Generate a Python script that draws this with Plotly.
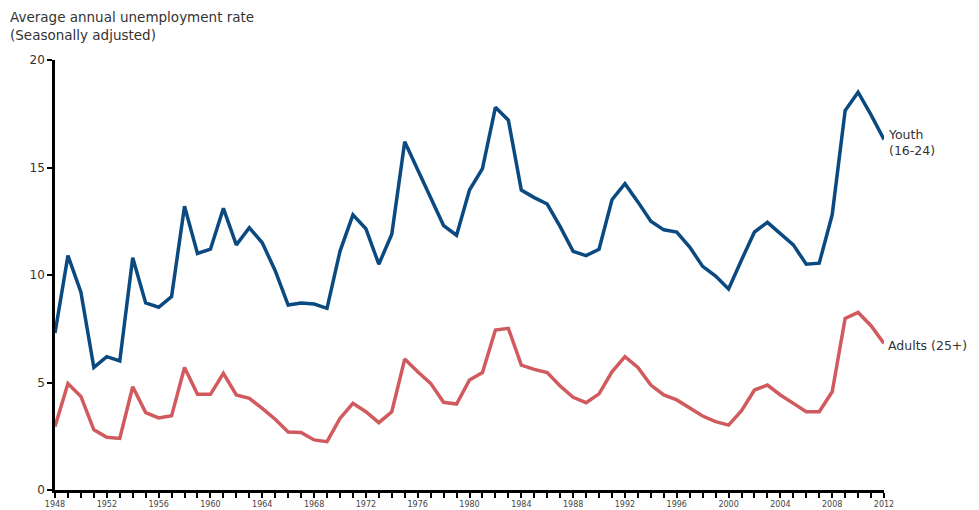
import plotly.graph_objects as go

years = list(range(1948, 2013))
youth = [7.3, 10.9, 9.2, 5.7, 6.2, 6.0, 10.8, 8.7, 8.5, 9.0,
         13.2, 11.0, 11.2, 13.1, 11.4, 12.2, 11.5, 10.2, 8.6, 8.7,
         8.65, 8.45, 11.1, 12.8, 12.15, 10.5, 11.9, 16.2, 14.9, 13.6,
         12.3, 11.85, 13.95, 14.95, 17.8, 17.2, 13.95, 13.6, 13.3, 12.25,
         11.1, 10.9, 11.2, 13.5, 14.25, 13.4, 12.5, 12.1, 12.0, 11.3,
         10.4, 9.95, 9.35, 10.7, 12.0, 12.45, 11.9, 11.4, 10.5, 10.55,
         12.8, 17.65, 18.5, 17.45, 16.3]
adults = [2.95, 4.95, 4.35, 2.8, 2.45, 2.4, 4.8, 3.6, 3.35, 3.45,
          5.7, 4.45, 4.45, 5.43, 4.42, 4.26, 3.8, 3.29, 2.7, 2.68,
          2.33, 2.25, 3.33, 4.03, 3.64, 3.13, 3.64, 6.09, 5.5, 4.96,
          4.08, 4.0, 5.12, 5.46, 7.44, 7.52, 5.81, 5.61, 5.46, 4.84,
          4.31, 4.06, 4.47, 5.5, 6.2, 5.7, 4.88, 4.42, 4.19, 3.8,
          3.44, 3.18, 3.02, 3.69, 4.65, 4.88, 4.42, 4.03, 3.64, 3.64,
          4.57, 7.98, 8.26, 7.64, 6.82]
x_tick_labels = [str(y) if (y - 1948) % 4 == 0 else "" for y in years]
y_ticks = [0, 5, 10, 15, 20]

BLUE = "#0b4a80"
RED = "#d05a5e"
FONT = "DejaVu Sans"

fig = go.Figure()
fig.add_trace(go.Scatter(x=years, y=youth, mode="lines",
                         line=dict(color=BLUE, width=3.5), name="Youth (16-24)"))
fig.add_trace(go.Scatter(x=years, y=adults, mode="lines",
                         line=dict(color=RED, width=3.5), name="Adults (25+)"))

fig.update_layout(
    width=979, height=510,
    margin=dict(l=47, r=103, t=52, b=28),
    plot_bgcolor="white", paper_bgcolor="white",
    showlegend=False,
    font=dict(family=FONT, color="#333333"),
)
fig.update_xaxes(
    range=[1948, 2012], tickmode="array", tickvals=years, ticktext=x_tick_labels,
    ticks="outside", ticklen=5, tickwidth=1.5, tickcolor="black",
    showline=True, linecolor="black", linewidth=2.5,
    showgrid=False, zeroline=False, automargin=False,
    tickfont=dict(size=8, color="#444444", family=FONT),
)
fig.update_yaxes(
    range=[0, 20], tickmode="array", tickvals=y_ticks,
    ticks="outside", ticklen=5, tickwidth=1.5, tickcolor="black",
    showline=True, linecolor="black", linewidth=2.5,
    showgrid=False, zeroline=False, automargin=False,
    tickfont=dict(size=12, color="#333333", family=FONT),
)

fig.add_annotation(text="Average annual unemployment rate<br>(Seasonally adjusted)",
                   xref="paper", yref="paper", x=-0.0567, y=1.123,
                   xanchor="left", yanchor="top", align="left", showarrow=False,
                   font=dict(size=13.5, color="#333333", family=FONT))
fig.add_annotation(text="Youth<br>(16-24)", x=years[-1], y=youth[-1],
                   xanchor="left", yanchor="middle", align="left", xshift=2, yshift=-3,
                   showarrow=False, font=dict(size=12.5, color="#333333", family=FONT))
fig.add_annotation(text="Adults (25+)", x=years[-1], y=adults[-1],
                   xanchor="left", yanchor="middle", align="left", xshift=2, yshift=-2,
                   showarrow=False, font=dict(size=12.5, color="#333333", family=FONT))

fig.write_html("out.html")
